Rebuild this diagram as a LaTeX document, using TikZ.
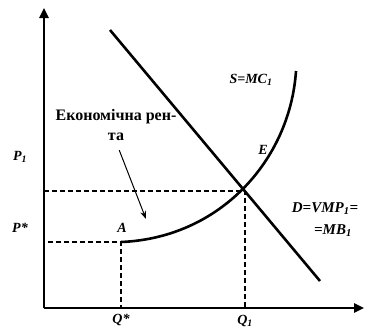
\documentclass[tikz,border=0pt]{standalone}
\usepackage{fontspec}
\setmainfont{Liberation Serif}
\usepackage{tikz}
\usetikzlibrary{arrows.meta,positioning}

\begin{document}
\begin{tikzpicture}[x=1pt,y=-1pt,
    lbl/.style={font=\fontsize{14}{16}\selectfont\bfseries\itshape, inner sep=1pt},
    axis/.style={line width=2.4pt, -{Triangle[width=9pt,length=10pt]}},
    curve/.style={line width=2.6pt},
    guide/.style={dashed, line width=1.1pt, dash pattern=on 5pt off 3pt}]
        \useasboundingbox (0,0) rectangle (366,332);
        % osi
        \coordinate (O) at (44,308);
        \coordinate (ytop) at (44,8);
        \coordinate (xend) at (364,308);
        \draw[axis] (O) -- (ytop);
        \draw[axis] (O) -- (xend);
        % popyt i propozytsiia
        \coordinate (d1) at (110,30);
        \coordinate (d2) at (320,281);
        \coordinate (A) at (121,242);
        \coordinate (E) at (245,191);
        \coordinate (s2) at (296,71);
        \draw[curve] (d1) -- (d2);
        \draw[curve] (A) .. controls (220,238) and (290,160) .. (s2);
        % dopomizhni liniyi
        \coordinate (p1) at (44,191);
        \coordinate (ps) at (48,242);
        \coordinate (q1) at (245,308);
        \coordinate (qs) at (121,308);
        \draw[guide] (p1) -- (E) -- (q1);
        \draw[guide] (ps) -- (A) -- (qs);
        % pidpysy
        \node[lbl] (lp1) at (20,157) {P\textsubscript{1}};
        \node[lbl] (lps) at (20,228) {P*};
        \node[lbl] (lA) at (122,228) {A};
        \node[lbl] (lE) at (263,150) {E};
        \node[lbl] (lS) at (251,80) {S=MC\textsubscript{1}};
        \node[lbl, font=\fontsize{15}{17}\selectfont\bfseries\itshape] (lD) at (325,209) {D=VMP\textsubscript{1}=};
        \node[lbl, font=\fontsize{15}{17}\selectfont\bfseries\itshape] (lMB) at (333,231) {=MB\textsubscript{1}};
        \node[lbl] (lqs) at (121,320) {Q*};
        \node[lbl] (lq1) at (245,321) {Q\textsubscript{1}};
        \node[font=\fontsize{16}{20}\selectfont\bfseries, align=center, inner sep=1pt] (rent) at (116,125) {Економічна рен-\\та};
        \coordinate (rentend) at (146,219);
        \draw[line width=1pt, -{Stealth[length=8pt,width=6pt]}, shorten <=9pt] (rent.south) -- (rentend);
\end{tikzpicture}
\end{document}
